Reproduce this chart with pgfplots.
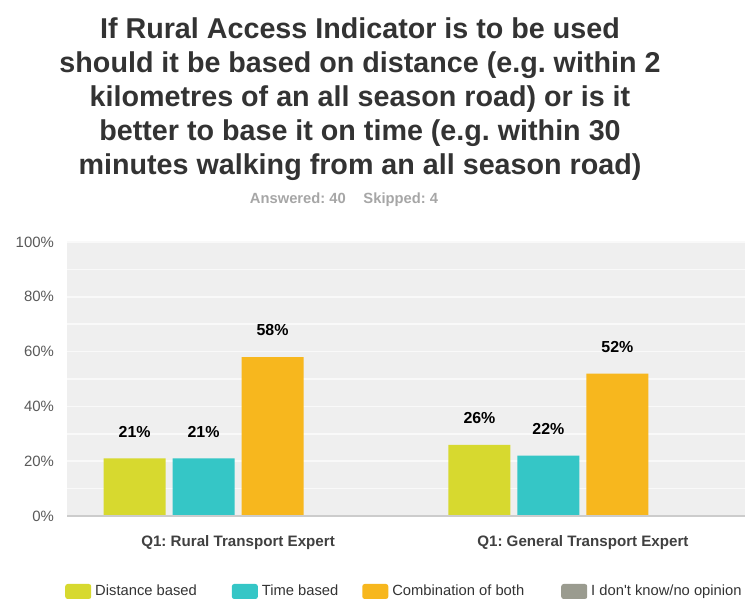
\documentclass[border=0pt]{standalone}
\usepackage{fontspec}
\setmainfont{Liberation Sans}
\usepackage{pgfplots}
\pgfplotsset{compat=1.18}
\definecolor{cgreen}{HTML}{D7D92F}
\definecolor{cteal}{HTML}{35C6C6}
\definecolor{corange}{HTML}{F7B71E}
\definecolor{cgray}{HTML}{9A9B8F}
\definecolor{bg}{HTML}{EFEFEF}
\definecolor{titlec}{HTML}{333333}
\frenchspacing
\begin{document}
\begin{tikzpicture}
\useasboundingbox (0,0) rectangle (372.5bp,-299.5bp);
\node[align=center, text=titlec, font=\fontsize{14.4}{17}\selectfont\bfseries] at (180bp,-49.5bp)
 {If Rural Access Indicator is to be used\\
  should it be based on distance (e.g. within 2\\
  kilometres of an all season road) or is it\\
  better to base it on time (e.g. within 30\\
  minutes walking from an all season road)};
\node[text=black!35, font=\fontsize{7.4}{8}\selectfont\bfseries] at (172bp,-100bp) {Answered: 40\hspace{1.2em}Skipped: 4};
\begin{axis}[
  at={(33.5bp,-258bp)}, anchor=south west,
  width=339bp, height=137bp, scale only axis,
  xmin=-0.496, xmax=1.47, ymin=0, ymax=100,
  axis background/.style={fill=bg},
  axis line style={draw=none},
  ybar=0pt, bar width=0.18,
  xtick={0,1}, xticklabels={Q1: Rural Transport Expert, Q1: General Transport Expert},
  xticklabel style={font=\fontsize{7.6}{8}\selectfont\bfseries, text=black!75, yshift=-6bp},
  ytick={0,20,40,60,80,100},
  yticklabel={\pgfmathprintnumber{\tick}\%},
  yticklabel style={font=\fontsize{7.5}{8}\selectfont, text=black!65, xshift=-3bp},
  /pgf/number format/assume math mode=true,
  minor ytick={10,30,50,70,90},
  ymajorgrids, yminorgrids,
  major grid style={draw=white!60!bg, line width=0.8bp},
  minor grid style={draw=white!60!bg, line width=0.8bp},
  major tick length=0, minor tick length=0,
  legend columns=4,
  legend style={at={(-0.012,-0.22)}, anchor=north west, draw=none, fill=none,
    font=\fontsize{7.4}{8}\selectfont, text=black!80,
    /tikz/column 2/.style={column sep=15.5bp},
    /tikz/column 4/.style={column sep=10bp},
    /tikz/column 6/.style={column sep=16.5bp}},
  legend image code/.code={\fill[#1, rounded corners=1.2bp] (0bp,-3.75bp) rectangle (13bp,3.75bp);},
  nodes near coords={\pgfmathprintnumber{\pgfplotspointmeta}\%},
  every node near coord/.append style={font=\fontsize{8}{9}\selectfont\bfseries, text=black, yshift=7bp},
]
\addplot[fill=cgreen, draw=none, bar shift=-0.3] coordinates {(0,21) (1,26)};
\addplot[fill=cteal, draw=none, bar shift=-0.1] coordinates {(0,21) (1,22)};
\addplot[fill=corange, draw=none, bar shift=0.1] coordinates {(0,58) (1,52)};
\addplot[fill=cgray, draw=none, bar shift=0.3, nodes near coords={}] coordinates {(0,0) (1,0)};
\legend{Distance based, Time based, Combination of both, I don\textquotesingle t know/no opinion}
\draw[black!20, line width=0.8bp] (axis cs:-0.496,0) -- (axis cs:1.47,0);
\end{axis}
\end{tikzpicture}
\end{document}
